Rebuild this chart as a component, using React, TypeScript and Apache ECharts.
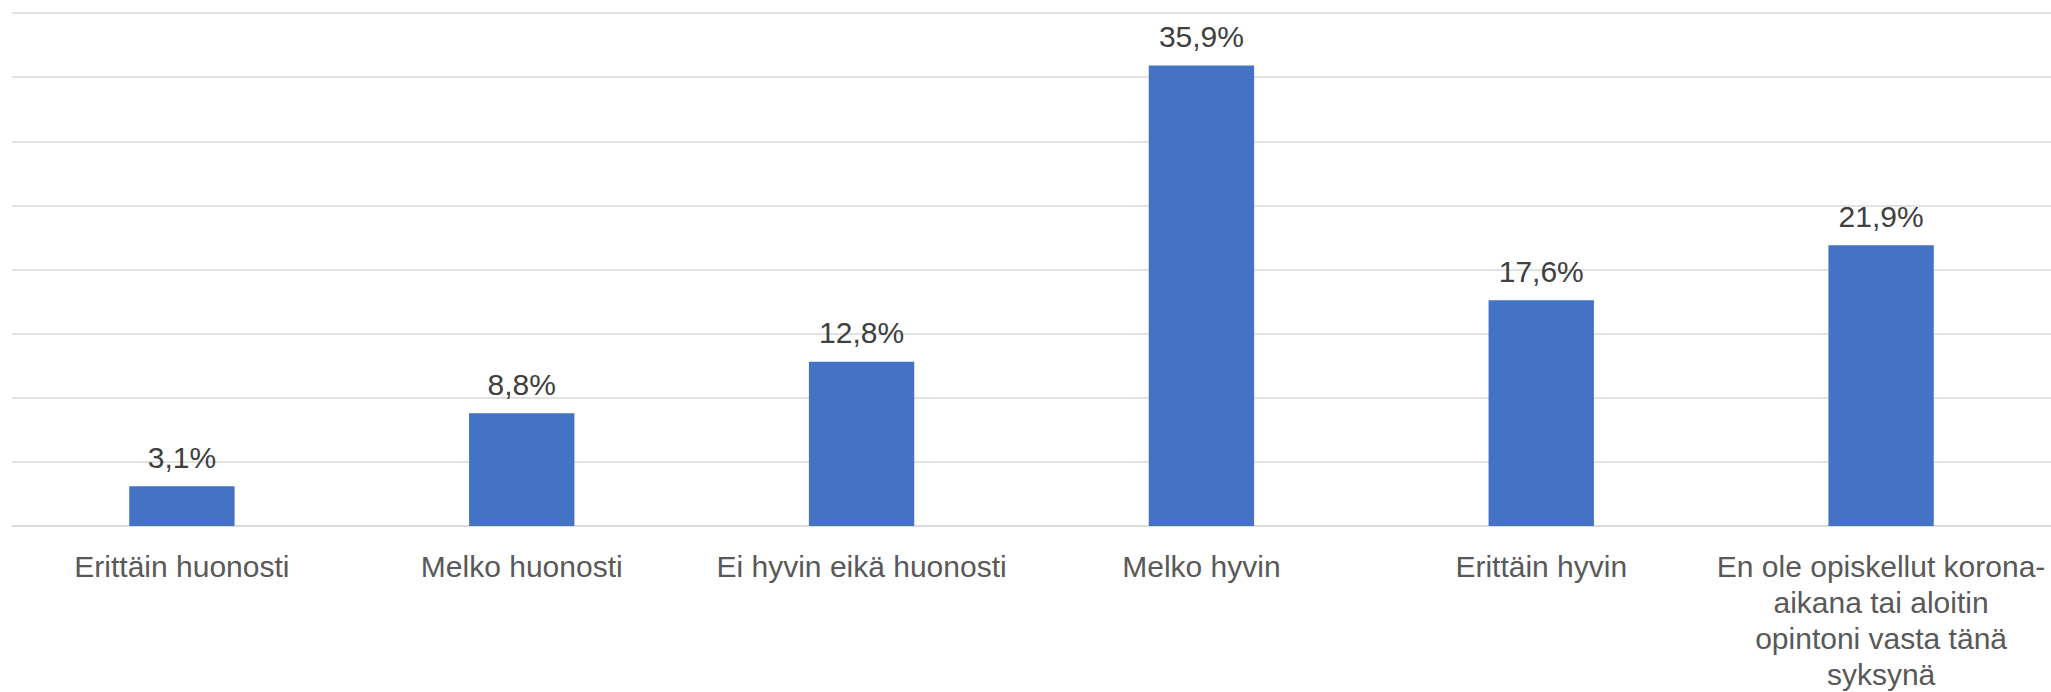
import React, { useEffect, useRef } from "react";
import * as echarts from "echarts";

const categories: string[] = [
  "Erittäin huonosti",
  "Melko huonosti",
  "Ei hyvin eikä huonosti",
  "Melko hyvin",
  "Erittäin hyvin",
  "En ole opiskellut korona-\naikana tai aloitin\nopintoni vasta tänä\nsyksynä",
];
const values: number[] = [3.1, 8.8, 12.8, 35.9, 17.6, 21.9];
const yMin = 0;
const yMax = 40;
const yInterval = 5;

const fmt = (v: number) => v.toFixed(1).replace(".", ",") + "%";

export default function App() {
  const ref = useRef<HTMLDivElement>(null);
  useEffect(() => {
    if (!ref.current) return;
    const chart = echarts.init(ref.current, undefined, { renderer: "svg" });
    chart.setOption({
      animation: false,
      backgroundColor: "#ffffff",
      textStyle: { fontFamily: "Liberation Sans, Arial, sans-serif" },
      grid: { left: 12, right: 0, top: 13, bottom: 162, containLabel: false },
      xAxis: {
        type: "category",
        data: categories,
        axisLine: { show: true, lineStyle: { color: "#d9d9d9", width: 1.5 } },
        axisTick: { show: false },
        axisLabel: {
          interval: 0,
          color: "#595959",
          fontSize: 30,
          lineHeight: 36,
          margin: 22,
          align: "center",
        },
      },
      yAxis: {
        type: "value",
        min: yMin,
        max: yMax,
        interval: yInterval,
        axisLabel: { show: false },
        axisLine: { show: false },
        axisTick: { show: false },
        splitLine: { show: true, lineStyle: { color: "#d9d9d9", width: 1.5 } },
      },
      series: [
        {
          type: "bar",
          data: values,
          barWidth: "31%",
          itemStyle: { color: "#4472C4" },
          label: {
            show: true,
            position: "top",
            distance: 14,
            color: "#404040",
            fontSize: 30,
            formatter: (p: any) => fmt(p.value),
          },
        },
      ],
    });
    return () => chart.dispose();
  }, []);
  return (
    <div
      ref={ref}
      style={{ position: "fixed", left: 0, top: 0, width: 2051, height: 692, background: "#fff" }}
    />
  );
}
